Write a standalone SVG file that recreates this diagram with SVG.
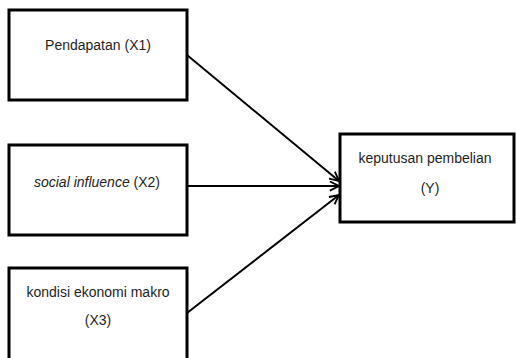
<svg xmlns="http://www.w3.org/2000/svg" width="516" height="358" viewBox="0 0 516 358">
<style>
.box{fill:#fff;stroke:#000;stroke-width:3}
.t{font-family:"Liberation Sans",Arial,sans-serif;font-size:14px;fill:#1e1e1e;text-anchor:middle}
.c{stroke:#000;stroke-width:2;fill:none;marker-end:url(#ah)}
</style>
<defs>
<marker id="ah" viewBox="0 0 12 12" refX="11" refY="6" markerWidth="11" markerHeight="11" markerUnits="userSpaceOnUse" orient="auto">
<path d="M1,1 L11,6 L1,11" fill="none" stroke="#000" stroke-width="2"/>
</marker>
</defs>
<rect width="516" height="358" fill="#fff"/>
<g id="x1"><rect class="box" x="9" y="10" width="178" height="90"/><text class="t" x="98" y="50">Pendapatan (X1)</text></g>
<g id="x2"><rect class="box" x="9" y="145" width="178" height="90"/><text class="t" x="97" y="187"><tspan font-style="italic">social influence</tspan> (X2)</text></g>
<g id="x3"><rect class="box" x="9" y="268" width="178" height="96"/><text class="t" x="98" y="297">kondisi ekonomi makro</text><text class="t" x="98" y="325">(X3)</text></g>
<g id="y"><rect class="box" x="340" y="134" width="174" height="88"/><text class="t" x="425" y="163">keputusan pembelian</text><text class="t" x="430" y="193">(Y)</text></g>
<g id="connectors">
<line class="c" x1="187" y1="55" x2="339" y2="181"/>
<line class="c" x1="187" y1="186" x2="339" y2="186"/>
<line class="c" x1="187" y1="313" x2="339" y2="195"/>
</g>
</svg>
